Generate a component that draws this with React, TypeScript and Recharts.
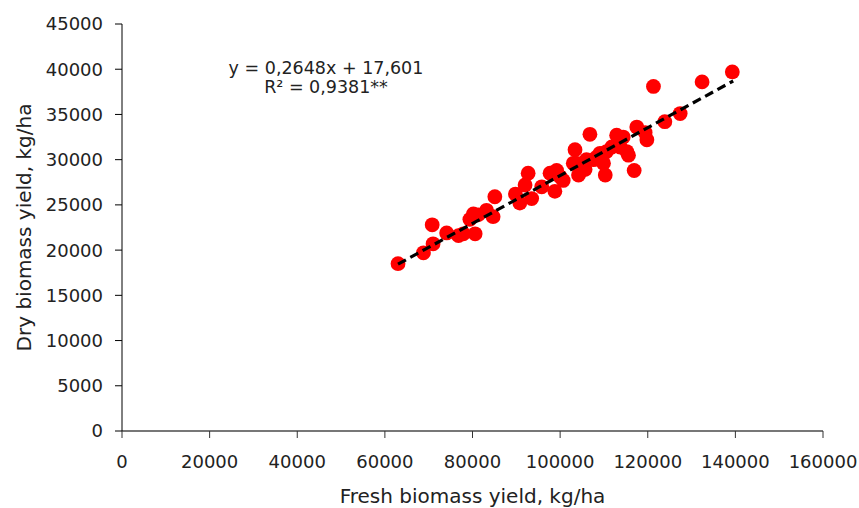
import { ScatterChart, Scatter, XAxis, YAxis } from 'recharts'

// fresh biomass (kg/ha) vs dry biomass (kg/ha)
const freshYield = [
  63000, 68800, 71000, 70800, 74100, 76800, 77900, 79400, 80200, 80600, 81300, 83200, 84700, 85100,
  89800, 90800, 92000, 92700, 93500, 95800, 97700, 98800, 99200, 100000, 100700, 103000, 103400,
  103800, 104200, 105700, 106000, 106800, 107600, 108400, 109100, 109900, 110300, 110600, 111800,
  112900, 113700, 114400, 115200, 115600, 116900, 117500, 119400, 119800, 121300, 123900, 127400,
  132400, 139300,
]
const dryYield = [
  18500, 19700, 20700, 22800, 21900, 21600, 21800, 23400, 24000, 21800, 23900, 24400, 23700, 25900,
  26200, 25200, 27200, 28500, 25700, 27000, 28500, 26500, 28800, 28100, 27700, 29600, 31100, 29600,
  28300, 28900, 30000, 32800, 30000, 30300, 30700, 29600, 28300, 30900, 31400, 32700, 31400, 32500,
  30900, 30500, 28800, 33600, 33000, 32200, 38100, 34200, 35100, 38600, 39700,
]

// ends of the fitted line
const trendX = [63000, 139500]
const trendY = [18450, 38700]

const xTicks = [0, 20000, 40000, 60000, 80000, 100000, 120000, 140000, 160000]
const yTicks = [0, 5000, 10000, 15000, 20000, 25000, 30000, 35000, 40000, 45000]

const equationLines = ['y = 0,2648x + 17,601', 'R² = 0,9381**']

const points = freshYield.map((x, i) => ({ x, y: dryYield[i] }))
const trendSegment = trendX.map((x, i) => ({ x, y: trendY[i] }))

const font = 'DejaVu Sans'
const textColor = '#222'

const Dot = (props: any) => <circle cx={props.cx} cy={props.cy} r={7.4} fill="#ff0000" />
const NoDot = () => <g />

export default function App() {
  return (
    <div style={{ position: 'absolute', left: 0, top: 0, width: 859, height: 508 }}>
      <ScatterChart width={859} height={508} margin={{ top: 24, right: 36, bottom: 0, left: 0 }}>
        <XAxis
          type="number"
          dataKey="x"
          domain={[0, 160000]}
          ticks={xTicks}
          height={77}
          tickSize={7}
          tickMargin={17}
          axisLine={{ stroke: '#777', strokeWidth: 2 }}
          tickLine={{ stroke: '#333' }}
          tick={{ fill: textColor, fontSize: 18, fontFamily: font }}
          label={{
            value: 'Fresh biomass yield, kg/ha',
            position: 'insideBottom',
            offset: 5,
            fill: textColor,
            fontSize: 20,
            fontFamily: font,
          }}
        />
        <YAxis
          type="number"
          dataKey="y"
          domain={[0, 45000]}
          ticks={yTicks}
          width={122}
          tickSize={7}
          tickMargin={12}
          axisLine={{ stroke: '#000' }}
          tickLine={{ stroke: '#000' }}
          tick={{ fill: textColor, fontSize: 18, fontFamily: font }}
          label={{
            value: 'Dry biomass yield, kg/ha',
            angle: -90,
            position: 'insideLeft',
            offset: 24,
            textAnchor: 'middle',
            fill: textColor,
            fontSize: 20,
            fontFamily: font,
          }}
        />
        <Scatter data={points} shape={Dot} isAnimationActive={false} />
        {/* trend line drawn after the dots so the dashes sit on top */}
        <Scatter
          data={trendSegment}
          shape={NoDot}
          line={{ stroke: '#000', strokeWidth: 3.2, strokeDasharray: '9 5' }}
          isAnimationActive={false}
        />
      </ScatterChart>
      <div
        style={{
          position: 'absolute',
          left: 226,
          top: 59,
          width: 200,
          textAlign: 'center',
          fontFamily: font,
          fontSize: 17.5,
          lineHeight: '19px',
          color: textColor,
        }}
      >
        {equationLines.map((line) => (
          <div key={line}>{line}</div>
        ))}
      </div>
    </div>
  )
}
